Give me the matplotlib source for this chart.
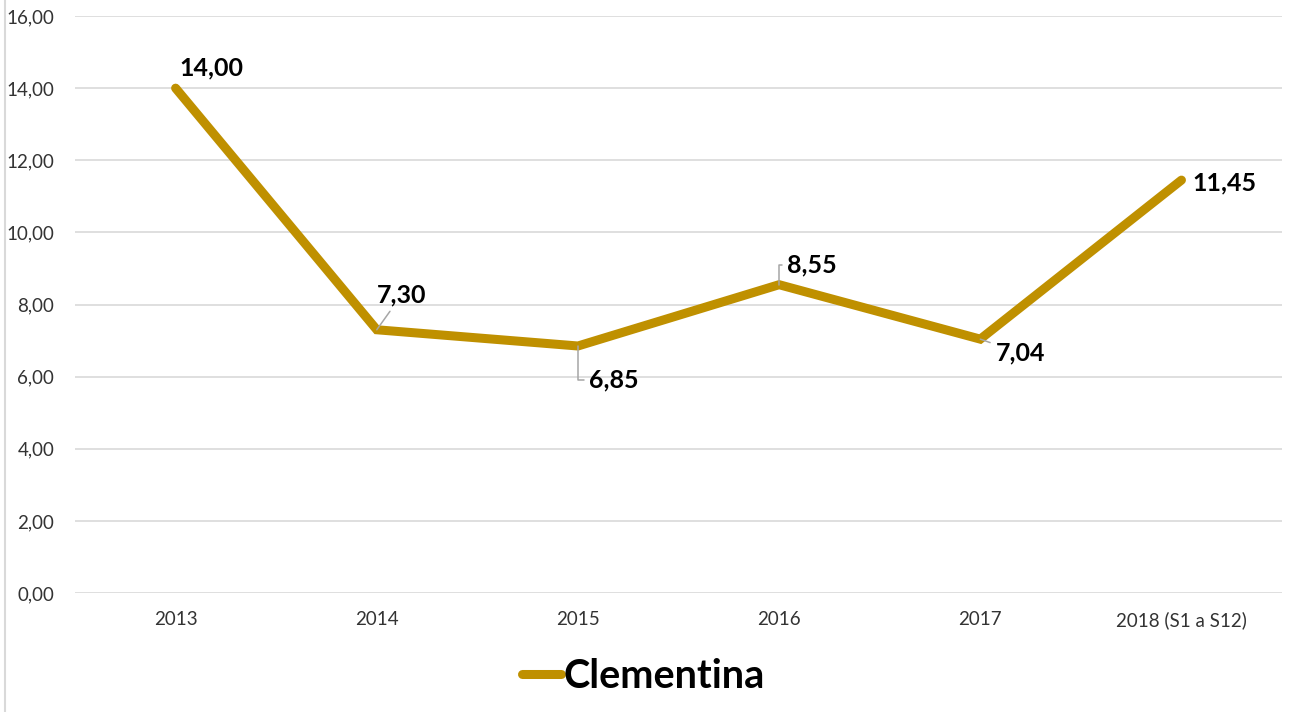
import matplotlib.pyplot as plt
from matplotlib.lines import Line2D

plt.rcParams['font.family'] = ['Lato', 'DejaVu Sans']

categories = ['2013', '2014', '2015', '2016', '2017', '2018 (S1 a S12)']
values = [14.00, 7.30, 6.85, 8.55, 7.04, 11.45]
series_name = 'Clementina'
yticks = [0, 2, 4, 6, 8, 10, 12, 14, 16]

# label offsets in pixels (dx, dy) and leader style per point
label_offsets = [(36, 20), (25, 35), (36, -34), (33, 20), (40, -14), (43, -3)]
leaders = [None, 'arc3', 'angle,angleA=0,angleB=90', 'angle,angleA=0,angleB=90', 'arc3', None]

line_color = '#BF9000'
grid_color = '#D9D9D9'


def fmt(v):
	return f"{v:.2f}".replace('.', ',')


fig = plt.figure(figsize=(12.89, 7.12), dpi=100)
ax = fig.add_axes([0.0582, 0.1671, 0.9364, 0.8104])

x = list(range(len(categories)))
ax.plot(x, values, color=line_color, lw=6.5, solid_capstyle='round',
		solid_joinstyle='miter', label=series_name, zorder=3)

ax.set_xlim(-0.5, len(categories) - 0.5)
ax.set_ylim(0, 16)
ax.set_yticks(yticks)
ax.set_yticklabels([fmt(v) for v in yticks], fontsize=13.5, color='#333333')
ax.set_xticks(x)
ax.set_xticklabels(categories, fontsize=13.5, color='#333333')
ax.tick_params(length=0)
ax.tick_params(axis='y', pad=15)
ax.tick_params(axis='x', pad=13)
for s in ax.spines.values():
	s.set_visible(False)
ax.grid(axis='y', color=grid_color, lw=1.2)
ax.set_axisbelow(True)

for i, v in enumerate(values):
	dx, dy = label_offsets[i]
	arrow = None
	if leaders[i] is not None:
		arrow = dict(arrowstyle='-', color='#A6A6A6', lw=1.1,
					 connectionstyle=leaders[i], shrinkA=2, shrinkB=0)
	ax.annotate(fmt(v), xy=(i, v), xytext=(dx, dy), textcoords='offset pixels',
				ha='center', va='center', fontsize=18, fontweight='bold',
				color='black', arrowprops=arrow, zorder=4)

fig.legend(loc='center', bbox_to_anchor=(0.499, 0.05), frameon=False,
		   handlelength=1.0, handletextpad=0.05,
		   prop={'size': 28.5, 'weight': 'bold'})

fig.add_artist(Line2D([5 / 1289, 5 / 1289], [0, 1], transform=fig.transFigure,
					  color='#D9D9D9', lw=1.5))

fig.savefig('out.png', dpi=100)
